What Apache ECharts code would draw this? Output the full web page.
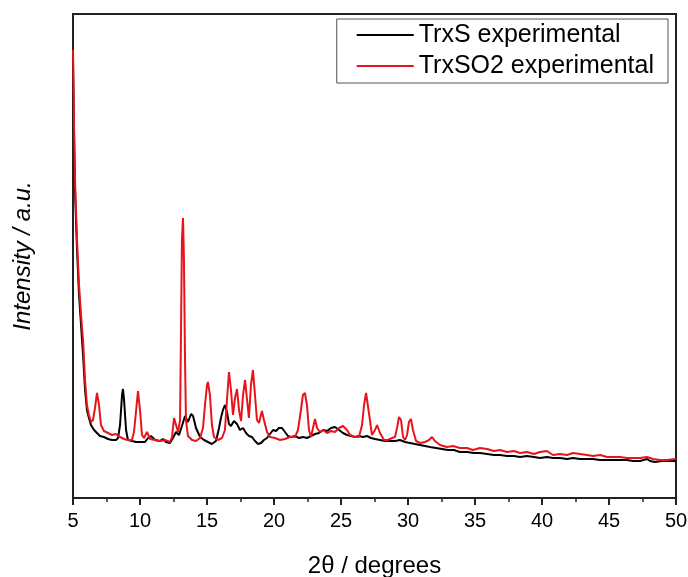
<!DOCTYPE html>
<html><head><meta charset="utf-8">
<script src="https://cdn.jsdelivr.net/npm/echarts@6/dist/echarts.min.js"></script>
<style>html,body{margin:0;padding:0;background:#fff}#c{width:688px;height:577px}</style>
</head><body><div id="c"></div>
<script>
// 2θ (degrees) and relative intensity (a.u.)
const trxsAngle = [5.00,5.07,5.15,5.30,5.45,5.60,5.75,5.90,6.04,6.19,6.34,6.57,6.79,7.01,7.31,7.61,7.91,8.21,8.36,8.51,8.66,8.73,8.81,8.96,9.10,9.40,9.70,10.00,10.37,10.60,10.82,11.12,11.49,11.72,11.94,12.24,12.46,12.69,12.91,13.13,13.36,13.58,13.81,13.96,14.18,14.48,14.78,15.07,15.37,15.67,15.90,16.04,16.19,16.34,16.49,16.64,16.79,17.01,17.24,17.46,17.69,17.91,18.13,18.36,18.58,18.81,19.03,19.25,19.48,19.70,19.93,20.15,20.37,20.60,20.82,21.04,21.27,21.57,21.87,22.16,22.46,22.76,23.06,23.36,23.66,23.96,24.25,24.55,24.85,25.15,25.45,25.75,26.04,26.34,26.64,26.94,27.24,27.54,27.91,28.28,28.66,29.03,29.40,29.78,30.15,30.52,30.90,31.27,31.64,32.09,32.54,32.99,33.43,33.88,34.40,34.93,35.37,35.90,36.42,36.87,37.39,37.91,38.36,38.88,39.40,39.85,40.37,40.82,41.34,41.87,42.31,42.84,43.36,43.81,44.33,44.85,45.30,45.82,46.34,46.79,47.31,47.84,48.06,48.43,48.96,49.48,50.00];
const trxsIntensity = [440,368,308,248,203,173,143,108,88,80,73,68,65,62,61,59,58,58,60,73,103,109,98,68,58,57,56,56,56,60,62,58,57,59,56,55,60,66,63,72,82,76,84,82,70,61,58,56,54,57,70,80,88,93,86,74,72,77,74,68,70,65,62,61,57,54,55,58,60,64,68,67,70,70,66,62,61,62,60,61,60,62,64,65,68,67,70,71,68,65,63,62,61,62,61,62,60,59,58,57,57,57,58,56,55,54,53,52,51,50,49,48,48,46,46,45,45,44,43,43,42,42,41,42,41,40,41,40,40,39,40,39,39,39,38,38,38,38,38,37,37,39,37,36,37,37,37];

const trxso2Angle = [5.00,5.07,5.15,5.30,5.45,5.60,5.75,5.90,6.04,6.19,6.34,6.49,6.64,6.79,6.94,7.09,7.31,7.61,7.91,8.21,8.51,8.81,9.10,9.40,9.55,9.70,9.85,10.00,10.15,10.30,10.52,10.75,11.12,11.49,11.87,12.24,12.39,12.54,12.69,12.84,12.99,13.06,13.13,13.21,13.28,13.36,13.43,13.58,13.88,14.18,14.48,14.70,14.85,15.00,15.07,15.22,15.37,15.52,15.82,16.12,16.34,16.49,16.64,16.79,16.94,17.09,17.24,17.39,17.54,17.69,17.84,17.99,18.13,18.28,18.43,18.58,18.73,18.88,19.10,19.25,19.48,19.70,20.07,20.45,20.82,21.19,21.57,21.79,22.01,22.16,22.31,22.46,22.61,22.76,22.91,23.06,23.21,23.43,23.66,23.96,24.25,24.55,24.85,25.15,25.45,25.67,26.04,26.34,26.57,26.72,26.87,27.01,27.16,27.31,27.54,27.69,27.91,28.21,28.51,28.81,29.03,29.18,29.33,29.48,29.63,29.78,29.93,30.07,30.22,30.37,30.60,30.90,31.27,31.57,31.79,32.01,32.39,32.91,33.36,33.88,34.40,34.85,35.37,35.90,36.42,36.87,37.39,37.91,38.36,38.88,39.40,39.85,40.37,40.82,41.34,41.87,42.31,42.84,43.36,43.81,44.33,44.85,45.30,45.82,46.34,46.79,47.31,47.84,48.28,48.81,49.33,50.00];
const trxso2Intensity = [448,378,318,258,213,183,158,118,93,83,76,78,90,105,93,73,67,65,63,64,61,59,58,58,66,86,107,88,63,60,66,59,58,57,58,56,61,80,73,66,78,168,258,280,238,138,78,62,58,57,60,70,93,113,116,103,73,61,58,60,68,98,126,108,83,100,109,88,77,103,118,98,80,113,128,103,78,75,87,78,66,61,60,58,59,61,61,68,88,103,105,93,68,61,70,79,70,66,68,65,67,66,70,72,68,63,61,61,73,93,105,103,78,63,68,73,65,58,58,60,61,70,81,78,61,58,63,76,79,68,57,55,56,58,61,57,53,51,52,50,50,48,50,49,47,48,46,47,45,46,44,46,47,43,44,43,45,44,43,42,43,41,41,41,40,40,40,41,39,38,38,39];

const seriesNames = ['TrxS experimental', 'TrxSO2 experimental'];
const xTicks = [5,10,15,20,25,30,35,40,45,50];

const zip = (a, b) => a.map((v, i) => [v, b[i]]);
const FONT = '"Liberation Sans", Arial, sans-serif';

const chart = echarts.init(document.getElementById('c'), null, {renderer: 'canvas'});
chart.setOption({
  animation: false,
  backgroundColor: '#fff',
  grid: {left: 73, top: 14, right: 12, bottom: 79, containLabel: false, outerBoundsMode: 'none',
         show: true, borderColor: '#222', borderWidth: 2, backgroundColor: 'transparent'},
  legend: {
    right: 20, top: 19,
    orient: 'vertical',
    data: seriesNames.map(n => ({name: n, icon: 'rect'})),
    itemWidth: 57, itemHeight: 2, itemGap: 3,
    padding: [2, 14, 3, 20],
    borderColor: '#555', borderWidth: 1,
    textStyle: {fontSize: 25, fontFamily: FONT, color: '#000', lineHeight: 28}
  },
  xAxis: {
    type: 'value', min: xTicks[0], max: xTicks[xTicks.length - 1], interval: 5,
    name: '2θ / degrees', nameLocation: 'middle', nameGap: 56,
    nameTextStyle: {fontSize: 24, fontFamily: FONT, color: '#000'},
    axisLine: {lineStyle: {color: '#222', width: 2}},
    axisTick: {show: true, inside: false, length: 7, lineStyle: {color: '#222', width: 2}},
    minorTick: {show: true, splitNumber: 2, length: 4, lineStyle: {color: '#222', width: 1.5}},
    axisLabel: {fontSize: 20, fontFamily: FONT, color: '#000', margin: 13},
    splitLine: {show: false}
  },
  yAxis: {
    type: 'value', min: 0, max: 484,
    name: 'Intensity / a.u.', nameLocation: 'middle', nameGap: 38,
    nameTextStyle: {fontSize: 24, fontFamily: FONT, color: '#000', fontStyle: 'italic'},
    axisLine: {show: true, lineStyle: {color: '#222', width: 2}},
    axisTick: {show: false},
    axisLabel: {show: false},
    splitLine: {show: false}
  },
  series: [
    {name: seriesNames[0], type: 'line', symbol: 'none', data: zip(trxsAngle, trxsIntensity),
     lineStyle: {color: '#000', width: 2}, itemStyle: {color: '#000'}},
    {name: seriesNames[1], type: 'line', symbol: 'none', data: zip(trxso2Angle, trxso2Intensity),
     lineStyle: {color: '#e8141b', width: 2}, itemStyle: {color: '#e8141b'}}
  ]
});
</script></body></html>
